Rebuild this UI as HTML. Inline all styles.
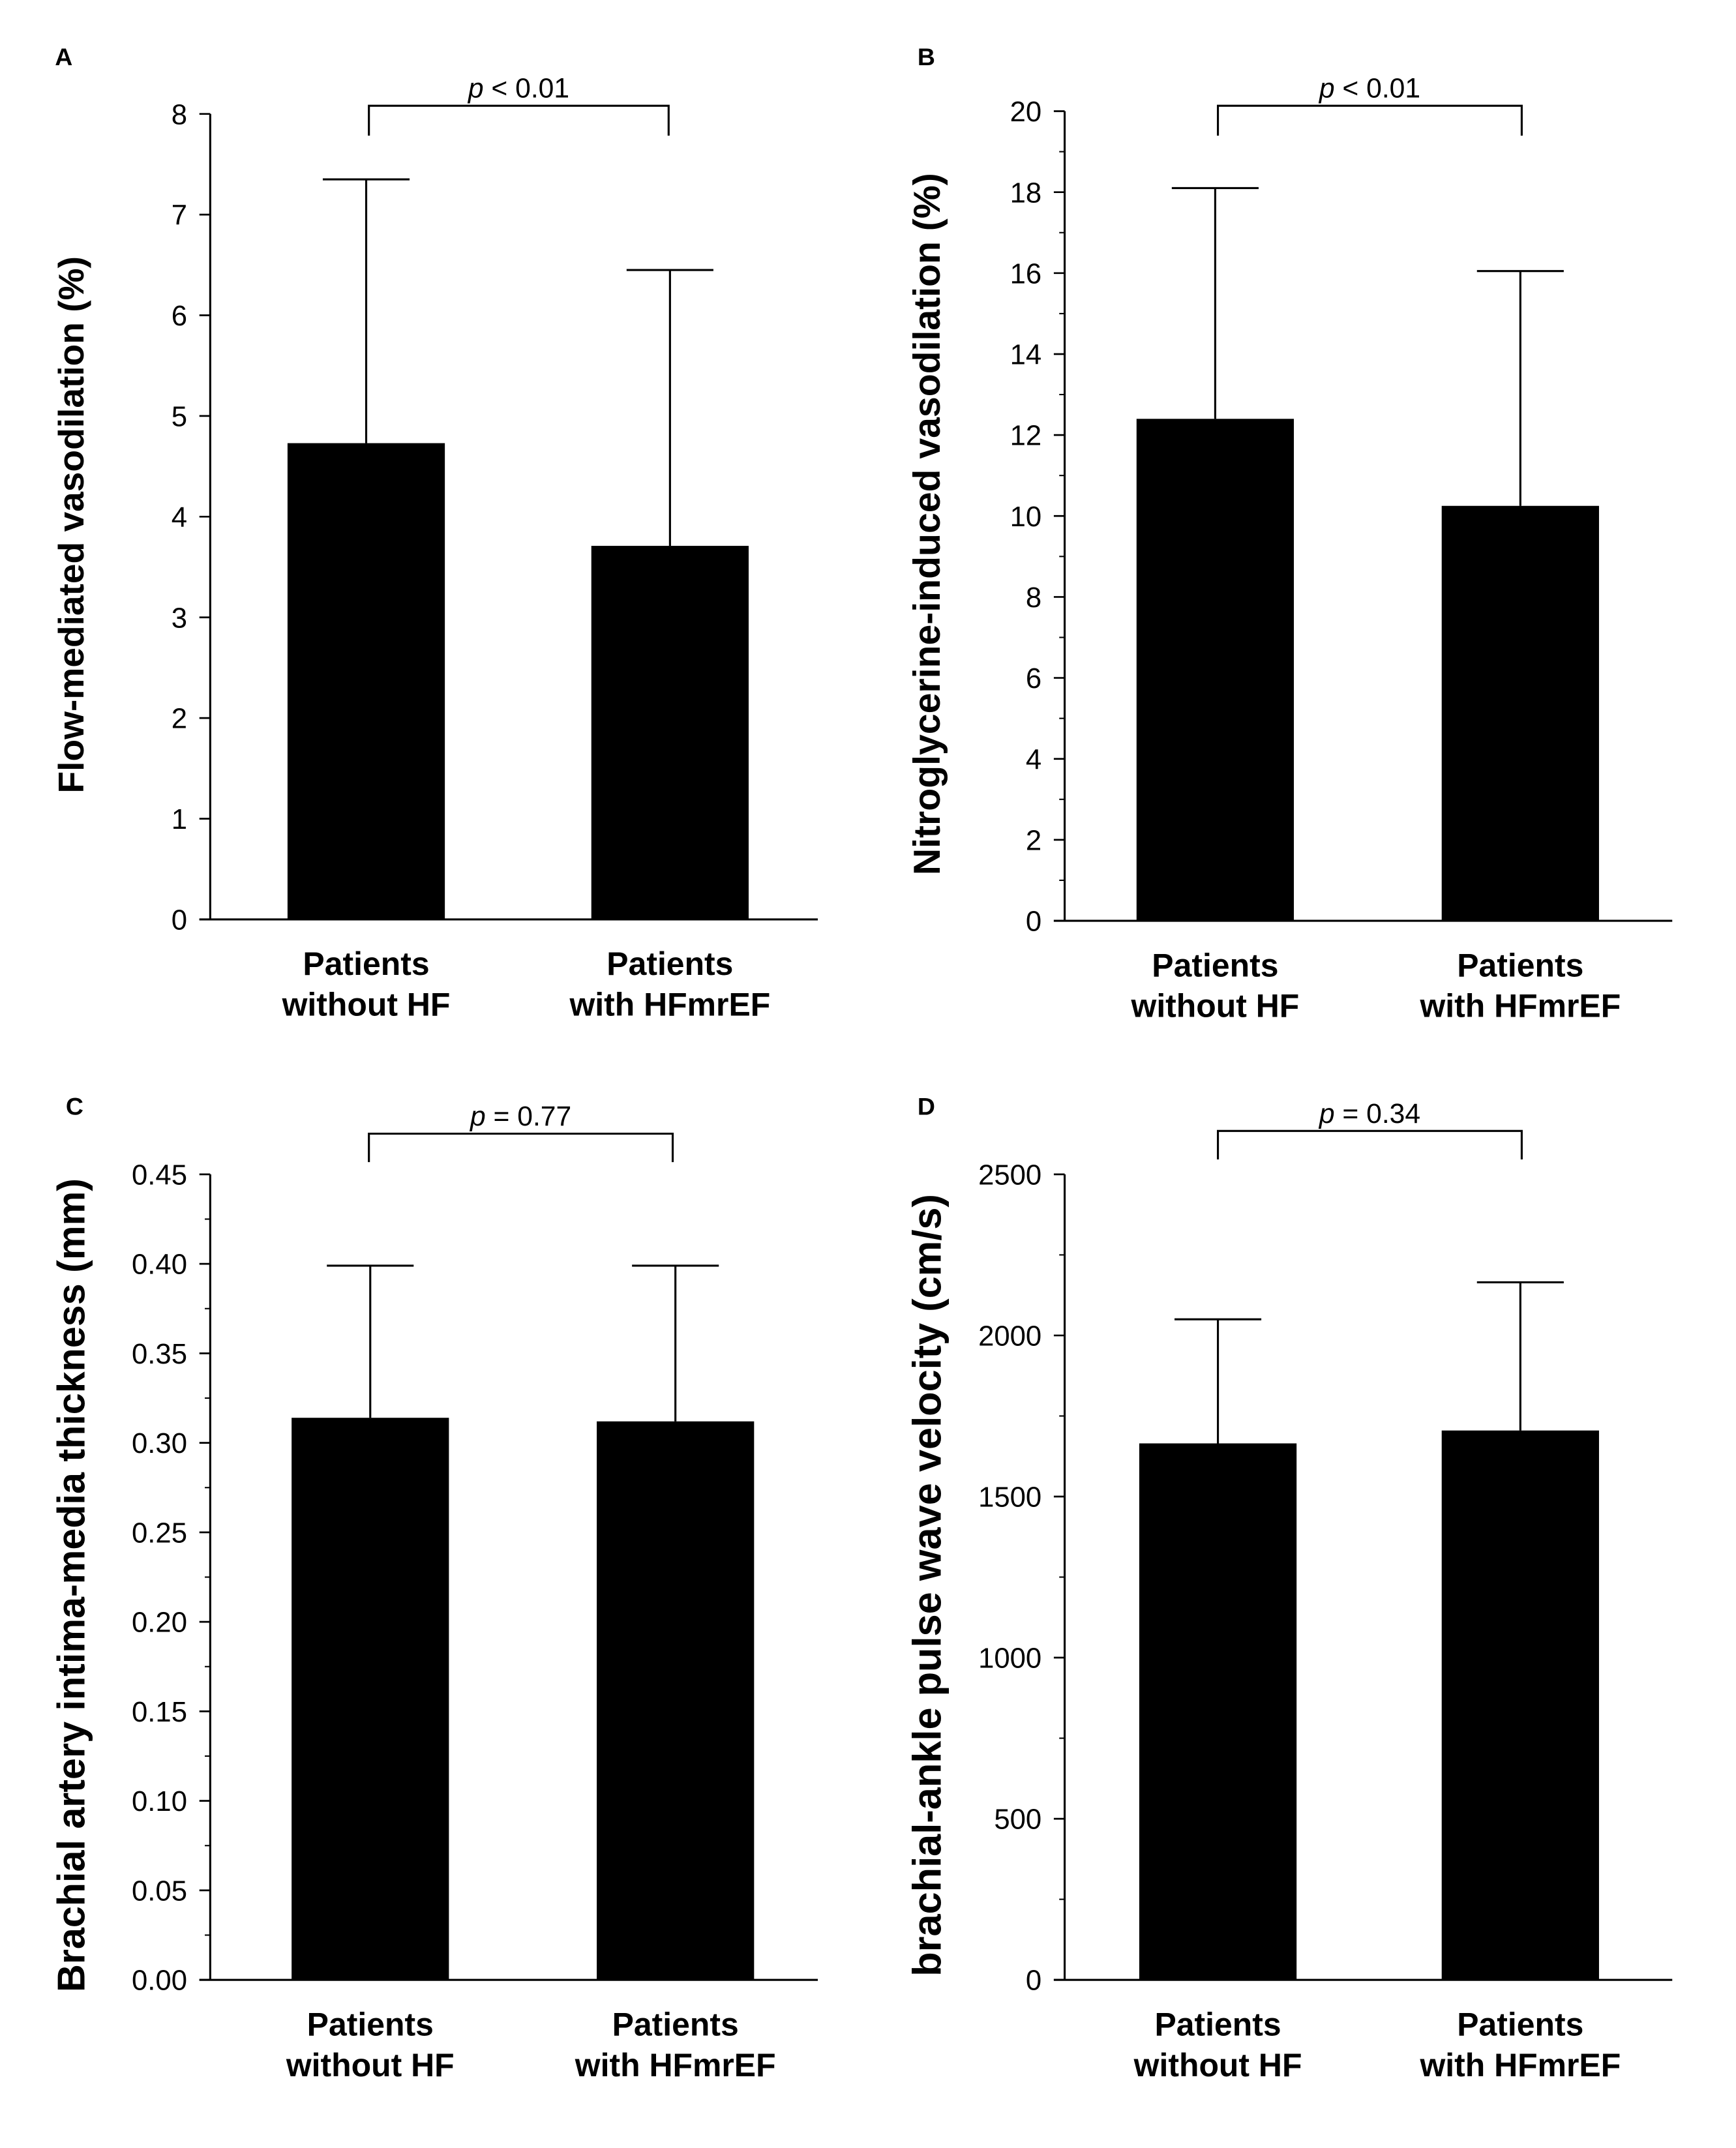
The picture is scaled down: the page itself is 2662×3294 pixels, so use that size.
<!DOCTYPE html>
<html><head><meta charset="utf-8"><style>
html,body{margin:0;padding:0;background:#fff;}
svg{display:block;}
text{font-family:"Liberation Sans",Arial,sans-serif;fill:#000;}
</style></head><body>
<svg id="fig" width="2662" height="3294" viewBox="0 0 1280 1584" preserveAspectRatio="none" xmlns="http://www.w3.org/2000/svg"></svg>
<script>
const categories = ["Patients|without HF", "Patients|with HFmrEF"];
const meansA = [4.73, 3.71];
const errA = [7.35, 6.45];
const ticksA = [0,1,2,3,4,5,6,7,8];
const meansB = [12.4, 10.25];
const errB = [18.1, 16.05];
const ticksB = [0,2,4,6,8,10,12,14,16,18,20];
const meansC = [0.314, 0.312];
const errC = [0.399, 0.399];
const ticksC = ["0.00","0.05","0.10","0.15","0.20","0.25","0.30","0.35","0.40","0.45"];
const meansD = [1665, 1705];
const errD = [2050, 2165];
const ticksD = [0,500,1000,1500,2000,2500];
const pLabels = ["< 0.01","< 0.01","= 0.77","= 0.34"];

const NS="http://www.w3.org/2000/svg";
const svg=document.getElementById('fig');
function el(tag,attrs,parent){const e=document.createElementNS(NS,tag);for(const k in attrs)e.setAttribute(k,attrs[k]);(parent||svg).appendChild(e);return e;}

const panels=[
 {id:'a',letter:'A',lx:47,ly:48,ax:155,y0:678,yTop:84,xEnd:603,bars:[212,436],means:meansA,errs:errA,ticks:ticksA,minor:false,title:'Flow-mediated vasodilation (%)',tc:52,tfs:26.5,brY:78,brX:[272,493],brD:100,p:pLabels[0]},
 {id:'b',letter:'B',lx:683,ly:48,ax:785,y0:679,yTop:82,xEnd:1233,bars:[838,1063],means:meansB,errs:errB,ticks:ticksB,minor:true,title:'Nitroglycerine-induced vasodilation (%)',tc:683,tfs:27.5,brY:78,brX:[898,1122],brD:100,p:pLabels[1]},
 {id:'c',letter:'C',lx:55,ly:822,ax:155,y0:1460,yTop:866,xEnd:603,bars:[215,440],means:meansC,errs:errC,ticks:ticksC,minor:true,title:'Brachial artery intima-media thickness (mm)',tc:52,tfs:28.5,brY:836,brX:[272,496],brD:857,p:pLabels[2]},
 {id:'d',letter:'D',lx:683,ly:822,ax:785,y0:1460,yTop:866,xEnd:1233,bars:[840,1063],means:meansD,errs:errD,ticks:ticksD,minor:true,title:'brachial-ankle pulse wave velocity (cm/s)',tc:683,tfs:29.5,brY:834,brX:[898,1122],brD:855,p:pLabels[3]}
];
const BW=116;
panels.forEach(P=>{
  const g=el('g',{});
  
  
  const tv=P.ticks.map(Number);
  const ymax=tv[tv.length-1];
  const y=v=>P.y0-(v/ymax)*(P.y0-P.yTop);
  const L=el('text',{x:P.lx,y:P.ly,'font-size':18,'font-weight':'bold','text-anchor':'middle'},g);L.textContent=P.letter;
  
  
  const ya=el('line',{x1:P.ax,y1:P.yTop,x2:P.ax,y2:P.y0,stroke:'#000','stroke-width':1.5},g);
  
  
  const xa=el('line',{x1:P.ax-8,y1:P.y0,x2:P.xEnd,y2:P.y0,stroke:'#000','stroke-width':1.5},g);
  
  
  P.ticks.forEach((t,i)=>{
    const yy=y(Number(t));
    el('line',{x1:P.ax-8,y1:yy,x2:P.ax,y2:yy,stroke:'#000','stroke-width':1.3},g);
    const tx=el('text',{x:P.ax-17,y:yy+7.5,'font-size':21,'text-anchor':'end'},g);tx.textContent=String(t);
    
    
    if(P.minor&&i<P.ticks.length-1){const ym=(yy+y(Number(P.ticks[i+1])))/2;el('line',{x1:P.ax-4,y1:ym,x2:P.ax,y2:ym,stroke:'#000','stroke-width':1},g);}
  });
  const bx=P.tc+0.36*P.tfs;
  const ttl=el('text',{x:0,y:0,'font-size':P.tfs,'font-weight':'bold','text-anchor':'middle',transform:`translate(${bx},${(P.yTop+P.y0)/2+6}) rotate(-90)`},g);
  ttl.textContent=P.title;
  
  
  P.means.forEach((m,i)=>{
    const x0=P.bars[i],cx=x0+BW/2;
    const r=el('rect',{x:x0,y:y(m),width:BW,height:P.y0-y(m),fill:'#000'},g);
    
    
    const e=el('path',{d:`M${cx},${y(m)}V${y(P.errs[i])}M${cx-32},${y(P.errs[i])}H${cx+32}`,stroke:'#000','stroke-width':1.5,fill:'none'},g);
    
    
    const parts=categories[i].split('|');
    parts.forEach((s,k)=>{const t=el('text',{x:cx,y:P.y0+41+k*30,'font-size':24,'font-weight':'bold','text-anchor':'middle'},g);t.textContent=s;
      
      });
  });
  const br=el('path',{d:`M${P.brX[0]},${P.brD}V${P.brY}H${P.brX[1]}V${P.brD}`,stroke:'#000','stroke-width':1.5,fill:'none'},g);
  
  
  const pt=el('text',{x:(P.brX[0]+P.brX[1])/2,y:P.brY-6,'font-size':20.5,'text-anchor':'middle'},g);
  pt.innerHTML='<tspan font-style="italic">p</tspan> '+P.p.replace('<','&lt;');
  
  
});
</script>
</body></html>
